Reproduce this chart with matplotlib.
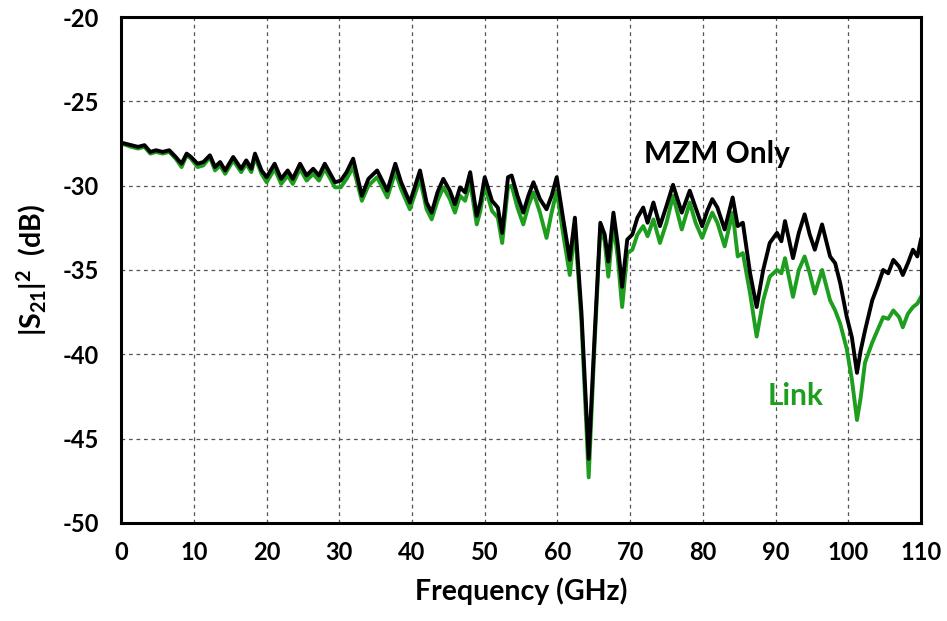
import matplotlib.pyplot as plt

# 频率 (GHz) 及两条曲线 |S21|^2 (dB)
freq = [0, 1.4, 2.3, 3.2, 4.0, 4.8, 5.7, 6.6, 7.5, 8.3, 9.0, 9.6, 10.5, 11.3, 12.2,
        12.9, 13.6, 14.3, 15.4, 16.5, 17.2, 17.9, 18.4, 19.3, 20.0, 21.1, 22.0, 22.9,
        23.6, 24.6, 25.5, 26.4, 27.2, 28.0, 29.4, 30.2, 31.0, 31.9, 33.1, 34.0, 35.2,
        36.6, 37.7, 38.5, 39.3, 39.7, 41.1, 42.0, 42.7, 43.5, 44.3, 45.2, 45.9, 46.6,
        47.3, 48.0, 48.9, 49.4, 50.0, 51.0, 51.8, 52.4, 53.2, 53.7, 54.5, 55.3, 56.0,
        56.7, 57.6, 58.5, 59.2, 59.9, 60.8, 61.7, 62.4, 63.3, 64.3, 65.1, 65.9, 66.5,
        67.0, 67.7, 68.3, 68.9, 69.6, 70.3, 71.0, 71.8, 72.4, 73.2, 74.1, 75.0, 75.9,
        77.1, 78.2, 79.0, 79.9, 80.6, 81.3, 82.0, 83.0, 84.1, 84.8, 85.5, 86.5, 87.4,
        88.3, 89.2, 90.2, 90.8, 91.3, 92.4, 93.2, 94.0, 94.7, 95.4, 96.4, 97.5, 98.2,
        98.9, 99.8, 100.5, 101.2, 101.7, 102.3, 103.3, 104.0, 104.8, 105.5, 106.2,
        107.0, 107.5, 108.2, 108.9, 109.5, 110.0]

mzm_only = [-27.45, -27.6, -27.7, -27.6, -28.0, -27.9, -28.0, -27.9, -28.3, -28.7, -28.1,
            -28.3, -28.7, -28.6, -28.2, -28.9, -28.6, -29.1, -28.3, -29.0, -28.5, -29.0,
            -28.1, -29.1, -29.5, -28.7, -29.6, -29.1, -29.6, -28.7, -29.4, -29.0, -29.4,
            -28.7, -29.8, -29.7, -29.2, -28.4, -30.6, -29.6, -29.1, -30.3, -28.7, -29.8,
            -30.6, -31.0, -29.1, -31.0, -31.6, -30.4, -29.6, -30.3, -31.1, -30.1, -30.4,
            -29.2, -31.8, -31.0, -29.5, -30.9, -31.3, -32.8, -29.5, -29.4, -30.6, -31.6,
            -30.6, -29.8, -30.8, -31.4, -30.6, -29.5, -32.0, -34.4, -31.9, -37.5, -46.2,
            -39.0, -32.2, -32.9, -34.5, -31.6, -33.5, -36.0, -33.2, -32.9, -31.9, -31.3,
            -32.2, -31.0, -32.4, -31.2, -29.95, -31.6, -30.3, -31.3, -32.4, -31.5, -30.8,
            -31.3, -32.6, -30.7, -32.4, -32.2, -35.2, -37.2, -35.0, -33.4, -32.8, -33.3,
            -32.1, -34.3, -32.8, -31.7, -32.9, -33.8, -32.3, -34.2, -34.6, -35.8, -37.8,
            -39.0, -41.1, -39.8, -38.6, -36.8, -36.0, -35.0, -35.2, -34.4, -34.8, -35.3,
            -34.6, -33.8, -34.2, -33.2]

link = [-27.5, -27.7, -27.8, -27.7, -28.1, -28.0, -28.1, -28.0, -28.4, -28.9, -28.2,
        -28.4, -28.9, -28.8, -28.3, -29.1, -28.8, -29.3, -28.5, -29.2, -28.7, -29.2,
        -28.3, -29.3, -29.8, -29.0, -29.9, -29.4, -29.9, -29.0, -29.7, -29.3, -29.7,
        -29.0, -30.1, -30.1, -29.6, -28.9, -30.9, -30.0, -29.5, -30.7, -29.2, -30.2,
        -31.0, -31.4, -29.6, -31.4, -32.0, -30.9, -30.1, -30.8, -31.6, -30.6, -30.9,
        -29.8, -32.3, -31.5, -30.0, -31.5, -31.9, -33.4, -30.1, -30.0, -31.3, -32.3,
        -31.2, -30.4, -31.6, -33.1, -31.6, -30.3, -32.9, -35.3, -32.5, -38.0, -47.3,
        -39.5, -32.5, -33.3, -35.4, -32.2, -34.3, -37.2, -34.0, -33.8, -32.9, -32.4,
        -33.0, -32.0, -33.4, -32.2, -30.6, -32.6, -31.0, -32.2, -33.1, -32.3, -31.6,
        -32.2, -33.6, -31.6, -34.2, -34.0, -36.4, -38.95, -36.8, -35.4, -35.0, -35.2,
        -34.3, -36.6, -35.0, -34.2, -35.2, -36.4, -35.0, -36.8, -37.4, -38.2, -39.7,
        -41.5, -43.9, -42.6, -40.5, -39.3, -38.6, -37.8, -37.9, -37.4, -37.8, -38.4,
        -37.6, -37.2, -37.0, -36.6]

x_ticks = list(range(0, 111, 10))
y_ticks = list(range(-50, -19, 5))

plt.rcParams['font.family'] = ['Lato', 'DejaVu Sans']
plt.rcParams['font.weight'] = 'bold'
plt.rcParams['axes.unicode_minus'] = False
plt.rcParams['mathtext.fontset'] = 'custom'
plt.rcParams['mathtext.rm'] = 'Lato:bold'
plt.rcParams['mathtext.bf'] = 'Lato:bold'
plt.rcParams['mathtext.it'] = 'Lato:bold'

fig = plt.figure(figsize=(9.47, 6.21), dpi=100)
ax = fig.add_axes([0.128, 0.158, 0.8445, 0.8146])

# 绿色先画，黑色在上
ax.plot(freq, link, color='#1e9e1e', linewidth=2.8)
ax.plot(freq, mzm_only, color='black', linewidth=2.8)

ax.set_xlim(0, 110)
ax.set_ylim(-50, -20)
ax.set_xticks(x_ticks)
ax.set_yticks(y_ticks)
ax.tick_params(length=0, labelsize=17)
ax.tick_params(axis='x', pad=13)
ax.tick_params(axis='y', pad=16)
ax.grid(True, color='#555555', linestyle=(0, (3, 3)), linewidth=0.9)
for sp in ax.spines.values():
    sp.set_linewidth(2.2)

ax.set_xlabel('Frequency (GHz)', fontsize=20.5, fontweight='bold', labelpad=10)
ax.set_ylabel(r'$|S_{21}|^2$  (dB)', fontsize=20.5, fontweight='bold', labelpad=10)

ax.text(82, -28.1, 'MZM Only', fontsize=21.5, fontweight='bold', color='black', ha='center', va='center')
ax.text(92.8, -42.5, 'Link', fontsize=21.5, fontweight='bold', color='#1e9e1e', ha='center', va='center')

plt.savefig('out.png', dpi=100)
